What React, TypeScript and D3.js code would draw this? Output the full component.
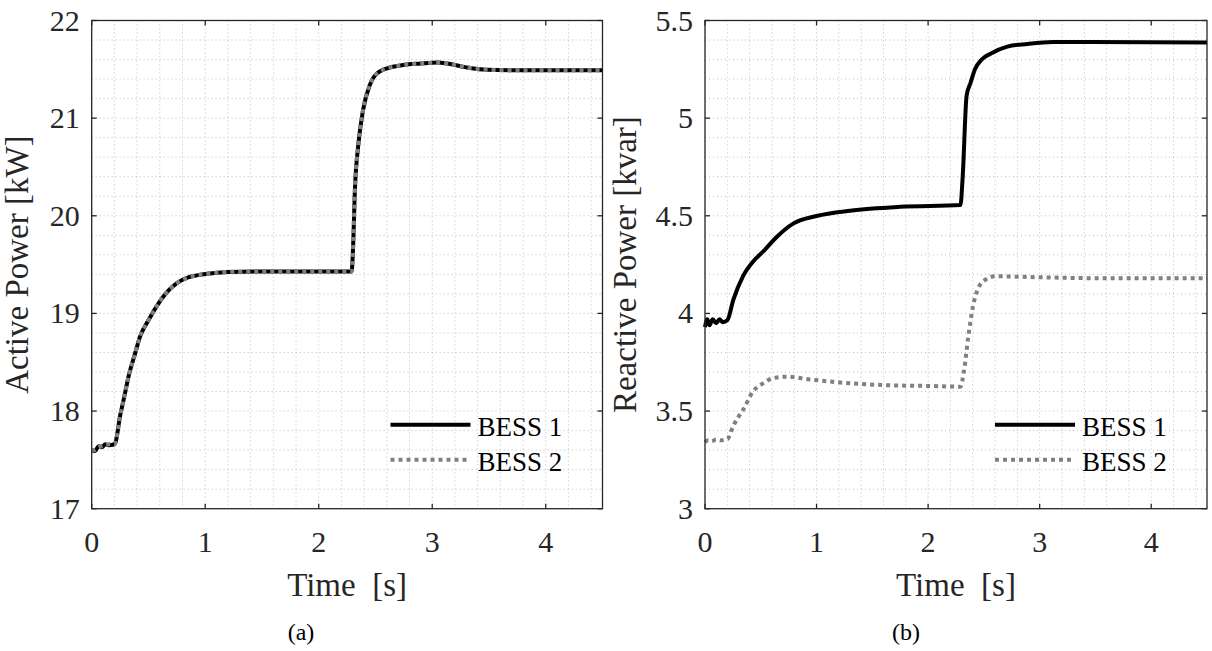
import React from "react";
import * as d3 from "d3";

// time [s] and values
const activeTime = [0, 0.03, 0.06, 0.09, 0.12, 0.15, 0.2, 0.21, 0.25, 0.28, 0.33, 0.38, 0.425, 0.5, 0.57, 0.65, 0.75, 0.85, 0.925, 1.05, 1.2, 1.6, 2.29, 2.3, 2.32, 2.35, 2.39, 2.45, 2.54, 2.72, 2.9, 3.05, 3.13, 3.3, 3.48, 3.8, 4.5];
const activeBess1 = [17.6, 17.59, 17.64, 17.63, 17.66, 17.65, 17.66, 17.68, 17.95, 18.11, 18.38, 18.58, 18.76, 18.93, 19.07, 19.2, 19.31, 19.37, 19.39, 19.41, 19.425, 19.43, 19.43, 19.6, 20.3, 20.74, 21.08, 21.34, 21.48, 21.54, 21.56, 21.57, 21.56, 21.52, 21.495, 21.49, 21.49];
const activeBess2 = [17.6, 17.6, 17.63, 17.64, 17.65, 17.66, 17.66, 17.68, 17.95, 18.11, 18.38, 18.58, 18.76, 18.93, 19.07, 19.2, 19.31, 19.37, 19.39, 19.41, 19.425, 19.43, 19.43, 19.6, 20.3, 20.74, 21.08, 21.34, 21.48, 21.54, 21.56, 21.57, 21.56, 21.52, 21.495, 21.49, 21.49];

const reactiveTime1 = [0, 0.02, 0.04, 0.07, 0.1, 0.13, 0.16, 0.2, 0.254, 0.34, 0.43, 0.52, 0.64, 0.79, 1.0, 1.3, 1.75, 2.29, 2.31, 2.345, 2.38, 2.42, 2.48, 2.56, 2.71, 2.89, 3.12, 4.5];
const reactiveBess1 = [3.93, 3.97, 3.94, 3.97, 3.95, 3.97, 3.955, 3.965, 4.07, 4.19, 4.265, 4.316, 4.39, 4.46, 4.499, 4.526, 4.546, 4.555, 4.7, 5.115, 5.18, 5.25, 5.3, 5.33, 5.366, 5.38, 5.39, 5.387];
const reactiveTime2 = [0, 0.03, 0.06, 0.1, 0.14, 0.2, 0.25, 0.3, 0.34, 0.43, 0.52, 0.61, 0.73, 0.94, 1.24, 1.6, 2.05, 2.29, 2.32, 2.36, 2.4, 2.45, 2.52, 2.6, 3.0, 3.6, 4.5];
const reactiveBess2 = [3.34, 3.35, 3.345, 3.355, 3.35, 3.355, 3.42, 3.47, 3.505, 3.6, 3.642, 3.668, 3.676, 3.662, 3.645, 3.633, 3.628, 3.625, 3.7, 3.88, 4.03, 4.13, 4.175, 4.19, 4.185, 4.18, 4.18];

const xTicks = [0, 1, 2, 3, 4];
const activeTicks = [17, 18, 19, 20, 21, 22];
const reactiveTicks = [3, 3.5, 4, 4.5, 5, 5.5];
const legendNames = ["BESS 1", "BESS 2"];

const FONT = "'Liberation Serif', 'Times New Roman', serif";
const AXIS = "#262626";

type Series = { t: number[]; v: number[] };

function Panel({
  left, right, top, bottom, yDomain, yTicks, yMinor, yLabel, yLabelX, s1, s2, caption, captionX,
}: {
  left: number; right: number; top: number; bottom: number;
  yDomain: [number, number]; yTicks: number[]; yMinor: number;
  yLabel: string; yLabelX: number; s1: Series; s2: Series; caption: string; captionX: number;
}) {
  const x = d3.scaleLinear().domain([0, 4.5]).range([left, right]);
  const y = d3.scaleLinear().domain(yDomain).range([bottom, top]);
  const xGrid = d3.range(0, 4.5 + 1e-9, 0.2);
  const yGrid = d3.range(yDomain[0], yDomain[1] + 1e-9, yMinor);
  const line = d3.line<[number, number]>().x((d) => x(d[0])).y((d) => y(d[1])).curve(d3.curveMonotoneX);
  const p1 = line(s1.t.map((t, i) => [t, s1.v[i]]) as [number, number][]) || "";
  const p2 = line(s2.t.map((t, i) => [t, s2.v[i]]) as [number, number][]) || "";
  const tl = 5;
  const legX = right - 212;
  const legY = [bottom - 84, bottom - 49];
  return (
    <g>
      {xGrid.map((g, i) => (
        <line key={"xg" + i} x1={x(g)} x2={x(g)} y1={top} y2={bottom} stroke="#bdbdbd" strokeWidth={1} strokeDasharray="1 3" />
      ))}
      {yGrid.map((g, i) => (
        <line key={"yg" + i} x1={left} x2={right} y1={y(g)} y2={y(g)} stroke="#bdbdbd" strokeWidth={1} strokeDasharray="1 3" />
      ))}
      <path d={p1} fill="none" stroke="#000" strokeWidth={4} strokeLinejoin="round" />
      <path d={p2} fill="none" stroke="#808080" strokeWidth={4} strokeDasharray="4 4" />
      <rect x={left} y={top} width={right - left} height={bottom - top} fill="none" stroke={AXIS} strokeWidth={1.3} />
      {xTicks.map((t) => (
        <g key={"xt" + t}>
          <line x1={x(t)} x2={x(t)} y1={bottom} y2={bottom - tl} stroke={AXIS} strokeWidth={1.3} />
          <line x1={x(t)} x2={x(t)} y1={top} y2={top + tl} stroke={AXIS} strokeWidth={1.3} />
          <text x={x(t)} y={bottom + 43} fontSize={30} fontFamily={FONT} textAnchor="middle" fill={AXIS}>{t}</text>
        </g>
      ))}
      {yTicks.map((t) => (
        <g key={"yt" + t}>
          <line x1={left} x2={left + tl} y1={y(t)} y2={y(t)} stroke={AXIS} strokeWidth={1.3} />
          <line x1={right} x2={right - tl} y1={y(t)} y2={y(t)} stroke={AXIS} strokeWidth={1.3} />
          <text x={left - 12} y={y(t) + 10} fontSize={30} fontFamily={FONT} textAnchor="end" fill={AXIS}>{t}</text>
        </g>
      ))}
      <text x={(left + right) / 2} y={bottom + 87} fontSize={33} fontFamily={FONT} textAnchor="middle" fill={AXIS} style={{ whiteSpace: "pre" }}>
        {"Time  [s]"}
      </text>
      <text transform={`translate(${yLabelX},${(top + bottom) / 2}) rotate(-90)`} fontSize={33} fontFamily={FONT} textAnchor="middle" fill={AXIS}>
        {yLabel}
      </text>
      <line x1={legX} x2={legX + 80} y1={legY[0]} y2={legY[0]} stroke="#000" strokeWidth={4} />
      <line x1={legX} x2={legX + 80} y1={legY[1]} y2={legY[1]} stroke="#808080" strokeWidth={4} strokeDasharray="4 4" />
      {legendNames.map((n, i) => (
        <text key={n} x={legX + 87} y={legY[i] + 11} fontSize={27} fontFamily={FONT} fill="#000">{n}</text>
      ))}
      <text x={captionX} y={640} fontSize={24} fontFamily={FONT} textAnchor="middle" fill="#000">{caption}</text>
    </g>
  );
}

export default function App() {
  return (
    <svg width={1212} height={651} style={{ position: "absolute", left: 0, top: 0, background: "#fff" }}>
      <Panel
        left={91.7} right={602.5} top={20.5} bottom={508.7}
        yDomain={[17, 22]} yTicks={activeTicks} yMinor={0.2}
        yLabel="Active Power [kW]" yLabelX={28}
        s1={{ t: activeTime, v: activeBess1 }} s2={{ t: activeTime, v: activeBess2 }}
        caption="(a)" captionX={301}
      />
      <Panel
        left={705} right={1207} top={20.5} bottom={508.7}
        yDomain={[3, 5.5]} yTicks={reactiveTicks} yMinor={0.1}
        yLabel="Reactive Power [kvar]" yLabelX={636}
        s1={{ t: reactiveTime1, v: reactiveBess1 }} s2={{ t: reactiveTime2, v: reactiveBess2 }}
        caption="(b)" captionX={906}
      />
    </svg>
  );
}
